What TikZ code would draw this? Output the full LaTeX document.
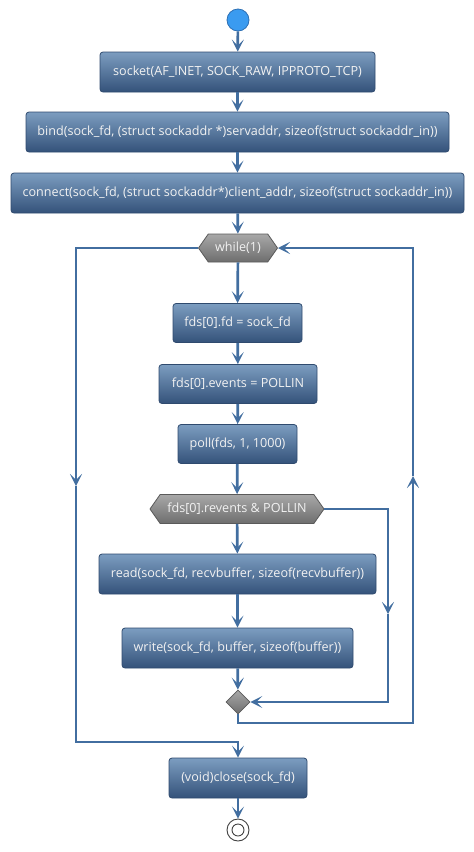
\documentclass[tikz,border=0pt]{standalone}
\usepackage{fontspec}
\setmainfont{Open Sans}
\usetikzlibrary{arrows.meta,shapes.geometric,shapes.symbols}
\definecolor{flowc}{HTML}{426EA0}
\definecolor{boxtop}{HTML}{7C9DC0}
\definecolor{boxbot}{HTML}{34527A}
\definecolor{boxbd}{HTML}{2F4A6E}
\definecolor{hextop}{HTML}{A8A8A8}
\definecolor{hexbot}{HTML}{6E6E6E}
\definecolor{hexbd}{HTML}{5A5A5A}
\definecolor{startc}{HTML}{3A9BF0}
\definecolor{startbd}{HTML}{2D6FB3}
\definecolor{txt}{HTML}{F2F2F2}
\tikzset{
  act/.style={rectangle, rounded corners=3pt, draw=boxbd, line width=0.8pt,
    top color=boxtop, bottom color=boxbot, text=txt, minimum height=40pt,
    inner sep=0pt, font=\fontsize{12.6}{15}\selectfont},
  hexa/.style={signal, signal to=west and east, signal pointer angle=110,
    draw=hexbd, line width=0.8pt, top color=hextop, bottom color=hexbot,
    text=txt, inner sep=0pt, font=\fontsize{12.6}{15}\selectfont},
  merge/.style={diamond, draw=hexbd, line width=0.8pt, top color=hextop,
    bottom color=hexbot, minimum size=24pt, inner sep=0pt},
  flow/.style={draw=flowc, line width=2.7pt},
  tip/.style={-{Stealth[length=12pt,width=12pt,inset=6pt]}},
}
\begin{document}
\begin{tikzpicture}[x=1pt,y=-1pt]
\useasboundingbox (0,0) rectangle (474,852);
% nodes
\node[circle, fill=startc, draw=startbd, line width=0.8pt, minimum size=22pt, inner sep=0pt] (s) at (238,20) {};
\node[act, minimum width=275pt] (a1) at (237.5,72) {socket(AF\_INET, SOCK\_RAW, IPPROTO\_TCP)};
\node[act, minimum width=423pt] (a2) at (237.5,132) {bind(sock\_fd, (struct sockaddr *)servaddr, sizeof(struct sockaddr\_in))};
\node[act, minimum width=453pt] (a3) at (237.5,193) {connect(sock\_fd, (struct sockaddr*)client\_addr, sizeof(struct sockaddr\_in))};
\node[hexa, minimum width=79pt, minimum height=28pt] (wh) at (238,248) {while(1)};
\node[act, minimum width=129pt, minimum height=39pt] (fd) at (237.5,323) {fds[0].fd = sock\_fd};
\node[act, minimum width=158pt, minimum height=39pt] (ev) at (238,384) {fds[0].events = POLLIN};
\node[act, minimum width=119pt, minimum height=39pt] (po) at (237.5,444) {poll(fds, 1, 1000)};
\node[hexa, minimum width=174pt, minimum height=29pt] (if) at (237,509) {fds[0].revents \& POLLIN};
\node[act, minimum width=277pt] (rd) at (237.5,574) {read(sock\_fd, recvbuffer, sizeof(recvbuffer))};
\node[act, minimum width=231pt] (wr) at (237.5,648) {write(sock\_fd, buffer, sizeof(buffer))};
\node[merge] (mg) at (238,702) {};
\node[act, minimum width=138pt] (cl) at (238,778) {(void)close(sock\_fd)};
\node[circle, draw=black!75, line width=0.9pt, minimum size=22pt, inner sep=0pt] (en) at (238,830) {};
\draw[black!75, line width=0.9pt] (en.center) circle (6pt);
% coordinates
\coordinate (r1) at (388,509);
\coordinate (r1m) at (388,614);
\coordinate (r2) at (388,702);
\coordinate (m1) at (238,723);
\coordinate (m2) at (413,723);
\coordinate (m2m) at (413,476);
\coordinate (m3) at (413,248);
\coordinate (l1) at (76,248);
\coordinate (l1m) at (76,486);
\coordinate (l2) at (76,742);
\coordinate (l3) at (238,742);
% edges
\draw[flow,tip] (s) -- (a1);
\draw[flow,tip] (a1) -- (a2);
\draw[flow,tip] (a2) -- (a3);
\draw[flow,tip] (a3) -- (wh);
\draw[flow,tip] (wh) -- (fd);
\draw[flow,tip] (fd) -- (ev);
\draw[flow,tip] (ev) -- (po);
\draw[flow,tip] (po) -- (if);
\draw[flow,tip] (if) -- (rd);
\draw[flow,tip] (rd) -- (wr);
\draw[flow,tip] (wr) -- (mg);
\draw[flow,tip] (cl) -- (en);
% if false branch
\draw[flow,tip] (if.east) -- (r1) -- (r1m);
\draw[flow,tip] (r1m) -- (r2) -- (mg.east);
% loop back
\draw[flow,tip] (mg.south) -- (m1) -- (m2) -- (m2m);
\draw[flow,tip] (m2m) -- (m3) -- (wh.east);
% loop exit
\draw[flow,tip] (wh.west) -- (l1) -- (l1m);
\draw[flow,tip] (l1m) -- (l2) -- (l3) -- (cl.north);
\end{tikzpicture}
\end{document}
